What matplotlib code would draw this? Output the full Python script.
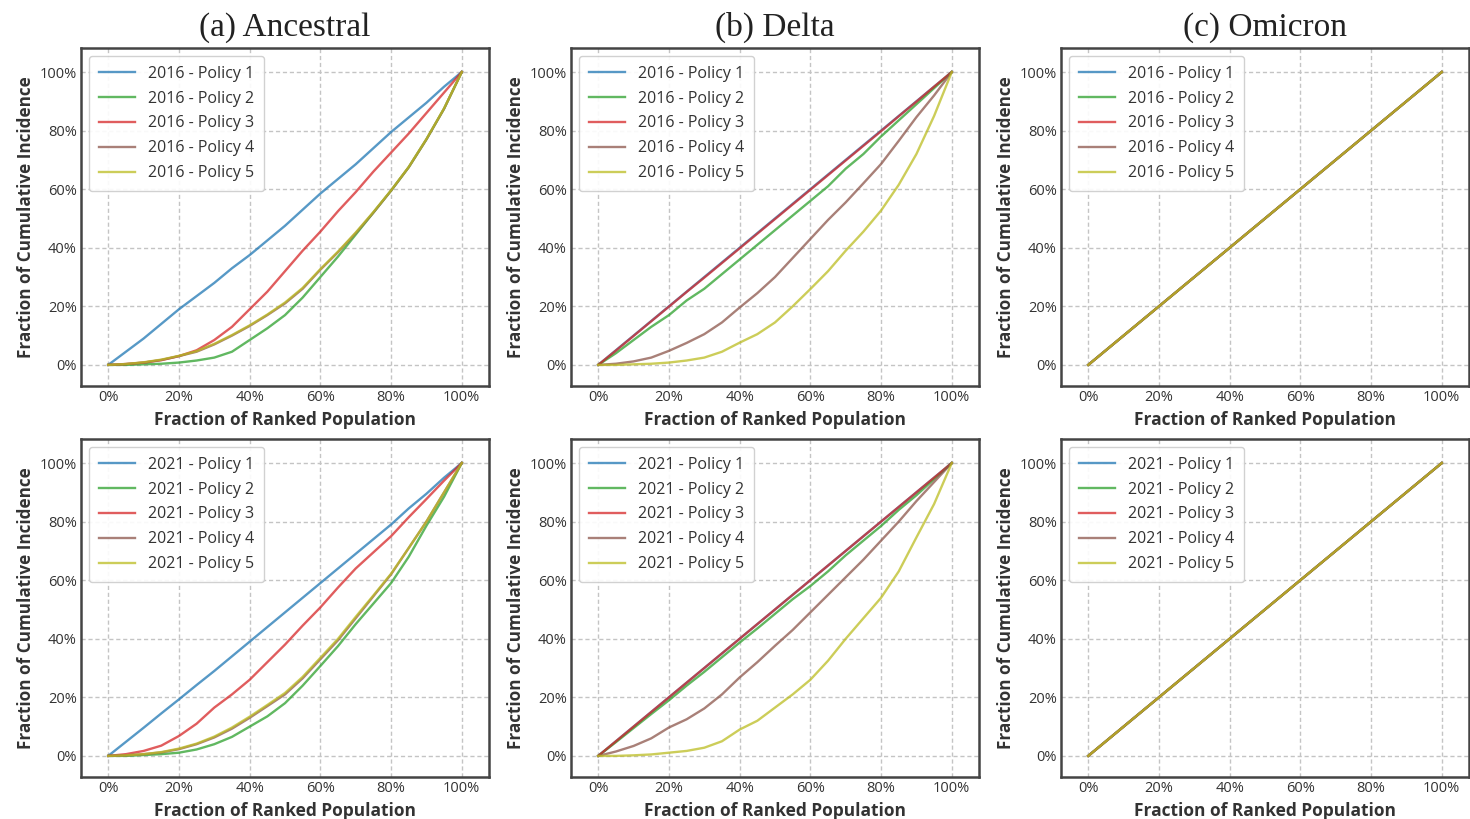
import numpy as np
import matplotlib
matplotlib.use("Agg")
import matplotlib.pyplot as plt
from matplotlib.ticker import PercentFormatter

# fraction of ranked population (x) shared by all curves
frac_pop = [0.0, 0.05, 0.10, 0.15, 0.20, 0.25, 0.30, 0.35, 0.40, 0.45, 0.50,
            0.55, 0.60, 0.65, 0.70, 0.75, 0.80, 0.85, 0.90, 0.95, 1.0]

# near-diagonal curve (equal incidence)
diagonal = [0.0, 0.05, 0.10, 0.15, 0.20, 0.25, 0.30, 0.35, 0.40, 0.45, 0.50,
            0.55, 0.60, 0.65, 0.70, 0.75, 0.80, 0.85, 0.90, 0.95, 1.0]

# (a) Ancestral, 2016 - policies 1..5
anc_2016 = [
    [0, .045, .09, .14, .19, .235, .28, .33, .375, .425, .475, .53, .585, .635, .685, .74, .795, .845, .895, .95, 1],
    [0, .0, .002, .004, .008, .015, .025, .045, .085, .125, .17, .23, .30, .37, .445, .52, .595, .675, .77, .875, 1],
    [0, .003, .008, .016, .03, .05, .085, .13, .19, .25, .32, .39, .455, .525, .59, .66, .725, .79, .86, .93, 1],
    [0, .003, .008, .017, .03, .045, .07, .10, .133, .17, .21, .26, .325, .385, .45, .52, .595, .675, .77, .875, 1],
    [0, .003, .009, .018, .031, .047, .072, .102, .135, .172, .213, .263, .327, .387, .452, .522, .596, .676, .771, .876, 1],
]
# (b) Delta, 2016
delta_2016 = [
    diagonal,
    [0, .04, .085, .13, .17, .22, .26, .31, .36, .41, .46, .51, .56, .61, .67, .72, .78, .835, .89, .945, 1],
    [0, .049, .099, .149, .199, .249, .298, .348, .398, .448, .498, .548, .598, .648, .698, .748, .798, .849, .899, .95, 1],
    [0, .004, .012, .025, .048, .075, .105, .145, .196, .245, .30, .365, .43, .495, .555, .62, .686, .765, .846, .92, 1],
    [0, 0, .002, .004, .008, .015, .025, .045, .076, .105, .145, .20, .259, .32, .39, .455, .527, .615, .72, .85, 1],
]
# (c) Omicron, 2016
omi_2016 = [diagonal, diagonal, diagonal, diagonal, diagonal]

# (a) Ancestral, 2021
anc_2021 = [
    [0, .048, .096, .145, .193, .242, .29, .34, .39, .44, .49, .54, .59, .64, .69, .74, .79, .845, .895, .95, 1],
    [0, .0, .003, .006, .011, .022, .04, .065, .10, .135, .18, .24, .307, .375, .45, .52, .59, .68, .786, .885, 1],
    [0, .006, .017, .035, .068, .11, .165, .21, .26, .32, .38, .445, .507, .575, .64, .695, .75, .815, .877, .94, 1],
    [0, .002, .006, .012, .023, .04, .063, .093, .13, .17, .21, .265, .33, .395, .47, .545, .62, .71, .80, .90, 1],
    [0, .002, .006, .013, .025, .042, .066, .097, .134, .174, .215, .27, .335, .40, .475, .548, .622, .71, .80, .90, 1],
]
# (b) Delta, 2021
delta_2021 = [
    diagonal,
    [0, .047, .095, .143, .19, .24, .287, .337, .387, .435, .485, .535, .58, .63, .685, .735, .785, .84, .89, .945, 1],
    diagonal,
    [0, .015, .034, .06, .097, .125, .162, .21, .268, .32, .376, .43, .49, .55, .61, .67, .735, .80, .87, .935, 1],
    [0, 0, .002, .005, .011, .017, .028, .05, .09, .12, .165, .21, .26, .325, .40, .47, .54, .63, .746, .86, 1],
]
# (c) Omicron, 2021
omi_2021 = [diagonal, diagonal, diagonal, diagonal, diagonal]

titles = ["(a) Ancestral", "(b) Delta", "(c) Omicron"]
years = ["2016", "2021"]
policies = ["Policy 1", "Policy 2", "Policy 3", "Policy 4", "Policy 5"]
colors = ["tab:blue", "tab:green", "tab:red", "tab:brown", "tab:olive"]

panels = [[anc_2016, delta_2016, omi_2016],
          [anc_2021, delta_2021, omi_2021]]

plt.rcParams["font.family"] = ["Open Sans", "DejaVu Sans"]
plt.rcParams["text.color"] = "#333333"
plt.rcParams["axes.labelcolor"] = "#333333"
plt.rcParams["xtick.color"] = "#333333"
plt.rcParams["ytick.color"] = "#333333"

fig = plt.figure(figsize=(14.7, 8.19), dpi=100)

lefts = [81 / 1470, 571 / 1470, 1061 / 1470]
bottoms = [1 - 386 / 819, 1 - 777 / 819]
w = 408 / 1470
h = 338 / 819

for r in range(2):
    for c in range(3):
        ax = fig.add_axes([lefts[c], bottoms[r], w, h])
        for k in range(5):
            ax.plot(frac_pop, panels[r][c][k], color=colors[k], lw=1.7, alpha=0.75,
                    label=f"{years[r]} - {policies[k]}")
        ax.set_xlim(-0.077, 1.077)
        ax.set_ylim(-0.072, 1.082)
        ax.set_xticks(np.arange(0, 1.01, 0.2))
        ax.set_yticks(np.arange(0, 1.01, 0.2))
        ax.xaxis.set_major_formatter(PercentFormatter(1.0, decimals=0))
        ax.yaxis.set_major_formatter(PercentFormatter(1.0, decimals=0))
        ax.tick_params(length=0, pad=3, labelsize=10.5)
        ax.grid(True, color="#c4c4c4", linestyle=(0, (3, 2)), lw=1)
        ax.set_axisbelow(True)
        for s in ax.spines.values():
            s.set_color("#444444")
            s.set_linewidth(1.8)
        ax.set_xlabel("Fraction of Ranked Population", fontsize=12.5, fontweight="bold", labelpad=4)
        ax.set_ylabel("Fraction of Cumulative Incidence", fontsize=12.3, fontweight="bold", labelpad=3)
        ax.legend(loc="upper left", fontsize=11.5, handlelength=2.3, labelspacing=0.56,
                  borderaxespad=0.5, borderpad=0.6, frameon=True, fancybox=True,
                  edgecolor="#cccccc", framealpha=0.9)
        if r == 0:
            ax.set_title(titles[c], fontsize=24, family="Liberation Serif", color="#222222", pad=9)

fig.savefig("out.png", dpi=100)
